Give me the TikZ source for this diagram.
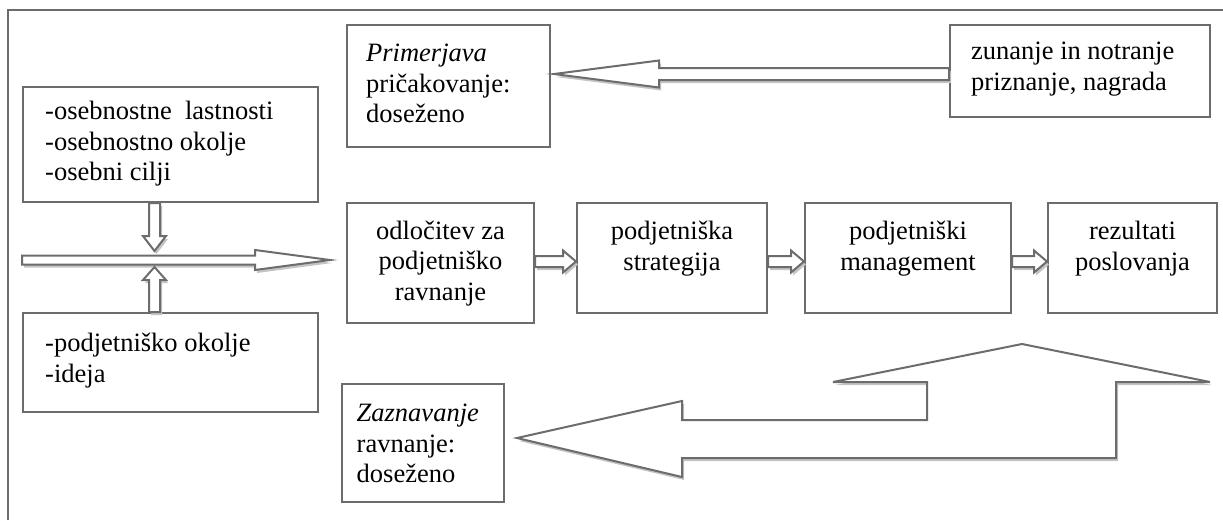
\documentclass[tikz,border=0pt]{standalone}
\usepackage{fontspec}
\setmainfont{Liberation Serif}
\usetikzlibrary{calc}
\definecolor{edge}{RGB}{108,108,108}
\definecolor{shade}{RGB}{196,196,196}
\tikzset{
  box/.style={draw=edge, line width=2pt, rectangle, inner sep=0pt, fill=white},
  lbl/.style={inner sep=0pt, font=\fontsize{26.5}{30.5}\selectfont},
  blockarrow/.style={draw=edge, line width=2pt, fill=white, line join=miter,
    preaction={fill=shade, transform canvas={xshift=2pt, yshift=-3pt}}},
}
% horizontal block arrow: tail, tip, shaft half-width, head half-width, head length
\newcommand\harrowshape[5]{%
  \path[blockarrow] let \p1=#1, \p2=#2, \n1={sign(\x2-\x1)} in
    (\x1,{\y2+#3pt}) -- ({\x2-\n1*#5pt},{\y2+#3pt}) -- ({\x2-\n1*#5pt},{\y2+#4pt})
    -- (\x2,\y2) -- ({\x2-\n1*#5pt},{\y2-#4pt}) -- ({\x2-\n1*#5pt},{\y2-#3pt})
    -- (\x1,{\y2-#3pt}) -- cycle;}
% vertical block arrow: tail, tip, shaft half-width, head half-width, head length
\newcommand\varrowshape[5]{%
  \path[blockarrow] let \p1=#1, \p2=#2, \n1={sign(\y2-\y1)} in
    ({\x2+#3pt},\y1) -- ({\x2+#3pt},{\y2-\n1*#5pt}) -- ({\x2+#4pt},{\y2-\n1*#5pt})
    -- (\x2,\y2) -- ({\x2-#4pt},{\y2-\n1*#5pt}) -- ({\x2-#3pt},{\y2-\n1*#5pt})
    -- ({\x2-#3pt},\y1) -- cycle;}
\begin{document}
\begin{tikzpicture}[x=1pt, y=-1pt]
\useasboundingbox (0,0) rectangle (1223,520);

% outer frame
\draw[edge, line width=2pt] (8,520) -- (8,10) -- (1223,10);

% boxes
\node[box, minimum width=295pt, minimum height=115pt] (A) at (170.5,144.5) {};
\node[box, minimum width=295pt, minimum height=99pt] (B) at (170.5,362.5) {};
\node[box, minimum width=203pt, minimum height=122pt] (prim) at (448.5,86) {};
\node[box, minimum width=260pt, minimum height=92pt] (zun) at (1080,71) {};
\node[box, minimum width=187pt, minimum height=120pt] (odl) at (440.5,263) {};
\node[box, minimum width=190pt, minimum height=110pt] (str) at (672,258) {};
\node[box, minimum width=206pt, minimum height=110pt] (mgm) at (908,258) {};
\node[box, minimum width=169pt, minimum height=110pt] (rez) at (1132.5,258) {};
\node[box, minimum width=162pt, minimum height=118pt] (zaz) at (423,443) {};

% texts
\node[lbl, align=left, anchor=west] (At) at (45,144)
  {\strut-osebnostne\ \ lastnosti\\-osebnostno okolje\\-osebni cilji\strut};
\node[lbl, align=left, anchor=west] (Bt) at (45,361)
  {\strut-podjetniško okolje\\-ideja\strut};
\node[lbl, align=left, anchor=west] (primt) at (366,86)
  {\strut\textit{Primerjava}\\pričakovanje:\\doseženo\strut};
\node[lbl, align=left, anchor=west] (zunt) at (971,69)
  {\strut zunanje in notranje\\priznanje, nagrada\strut};
\node[lbl, align=center] (odlt) at (440.5,263.5)
  {\strut odločitev za\\podjetniško\\ravnanje\strut};
\node[lbl, align=center] (strt) at (672,249)
  {\strut podjetniška\\strategija\strut};
\node[lbl, align=center] (mgmt) at (908,249)
  {\strut podjetniški\\management\strut};
\node[lbl, align=center] (rezt) at (1132.5,249)
  {\strut rezultati\\poslovanja\strut};
\node[lbl, align=left, anchor=west] (zazt) at (356.5,446)
  {\strut\textit{Zaznavanje}\\ravnanje:\\doseženo\strut};

% tips of the arrows meeting in front of the decision box
\coordinate (mt) at (330,260);
\coordinate (dt) at (154.5,251);
\coordinate (ut) at (154.5,267);

% inputs into the decision
\harrowshape{(A.west)}{(mt)}{4.5}{10}{75}
\varrowshape{(A.south)}{(dt)}{5.5}{11.5}{15}
\varrowshape{(B.north)}{(ut)}{5.5}{11.5}{13}

% chain of the process
\harrowshape{(odl.east)}{([yshift=-3.5pt]str.west)}{5.5}{11}{13}
\harrowshape{(str.east)}{([yshift=-3.5pt]mgm.west)}{5.5}{11}{13}
\harrowshape{(mgm.east)}{([yshift=-3.5pt]rez.west)}{5.5}{11}{13}

% reward fed back to the comparison
\harrowshape{(zun.west)}{([xshift=3pt,yshift=12pt]prim.east)}{6}{13.5}{105}

% bent feedback arrow from the results to the perception
\path[blockarrow] (517,438) -- (682,401) -- (682,420) -- (927,420) -- (927,382)
  -- (833,382) -- (1022,344) -- (1210,382) -- (1116,382) -- (1116,458)
  -- (682,458) -- (682,477) -- cycle;
\end{tikzpicture}
\end{document}
